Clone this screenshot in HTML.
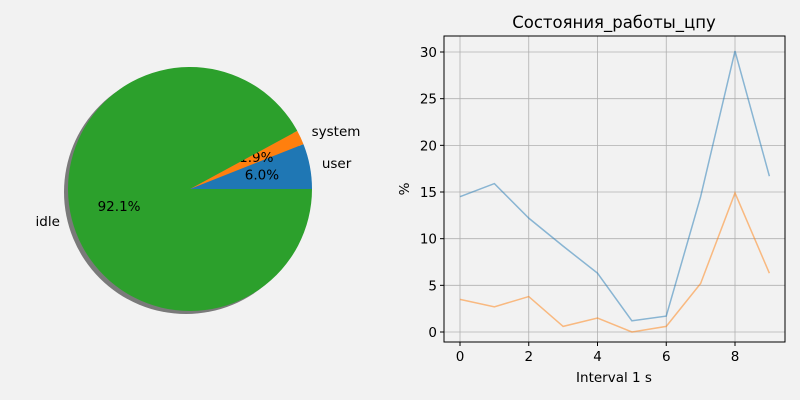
<!DOCTYPE html>
<html><head><meta charset="utf-8"><style>
body{margin:0;background:#f2f2f2}
svg{display:block;font-family:"DejaVu Sans","Liberation Sans",sans-serif}
</style></head><body>
<svg id="s" width="800" height="400">
<rect width="800" height="400" fill="#f2f2f2"/>
<g id="pie"></g>
<g id="line"></g>
</svg>
<script>
const pieLabels=["user","system","idle"];
const pieValues=[6.0,1.9,92.1];
const pieColors=["#1f77b4","#ff7f0e","#2ca02c"];
const xVals=[0,1,2,3,4,5,6,7,8,9];
const series1=[14.5,15.9,12.2,9.2,6.3,1.2,1.7,14.5,30.1,16.7];
const series2=[3.5,2.7,3.8,0.6,1.5,0.0,0.6,5.2,14.9,6.3];
const xTicks=[0,2,4,6,8];
const yTicks=[0,5,10,15,20,25,30];
const NS="http://www.w3.org/2000/svg";
const FS=13.5;
function mk(t,a,p,txt){const e=document.createElementNS(NS,t);for(const k in a)e.setAttribute(k,a[k]);if(txt!==undefined)e.textContent=txt;p.appendChild(e);return e;}
// pie
const pie=document.getElementById('pie');
const cx=190,cy=189,R=122;
const sh=mk('circle',{cx:cx-4,cy:cy+3,r:R,fill:'#7a7a7a'},pie);


const tot=pieValues.reduce((a,b)=>a+b,0);
let a0=0;
pieValues.forEach((v,i)=>{
 const a1=a0+v/tot*2*Math.PI;
 const x0=cx+R*Math.cos(a0),y0=cy-R*Math.sin(a0),x1=cx+R*Math.cos(a1),y1=cy-R*Math.sin(a1);
 const large=(a1-a0)>Math.PI?1:0;
 const p=mk('path',{d:`M${cx},${cy}L${x0},${y0}A${R},${R} 0 ${large} 0 ${x1},${y1}Z`,fill:pieColors[i]},pie);
 
 
 const m=(a0+a1)/2,c=Math.cos(m),s=Math.sin(m);
 const lt=mk('text',{x:cx+R*1.1*c,y:cy-R*1.1*s+4,'font-size':FS,'text-anchor':c>0?'start':'end'},pie,pieLabels[i]);
 
 
 const pt=mk('text',{x:cx+R*0.6*c,y:cy-R*0.6*s+4,'font-size':FS,'text-anchor':'middle'},pie,v.toFixed(1)+'%');
 
 
 a0=a1;
});
// line
const g=document.getElementById('line');
const L=444,Rt=785,T=36,B=342;
const X=v=>460+v*34.375, Y=v=>332-v*9.333;
const bg=mk('rect',{x:L,y:T,width:Rt-L,height:B-T,fill:'#f2f2f2'},g);


xTicks.forEach(t=>{
 mk('line',{x1:X(t),x2:X(t),y1:T,y2:B,stroke:'#b0b0b0','stroke-width':0.8},g);
 mk('line',{x1:X(t),x2:X(t),y1:B,y2:B+4,stroke:'#000'},g);
 const e=mk('text',{x:X(t),y:B+19,'font-size':FS,'text-anchor':'middle'},g,t);
 
 
});
yTicks.forEach(t=>{
 mk('line',{x1:L,x2:Rt,y1:Y(t),y2:Y(t),stroke:'#b0b0b0','stroke-width':0.8},g);
 mk('line',{x1:L-4,x2:L,y1:Y(t),y2:Y(t),stroke:'#000'},g);
 const e=mk('text',{x:L-7,y:Y(t)+5,'font-size':FS,'text-anchor':'end'},g,t);
 
 
});
[[series1,'#1f77b4','series-1-line'],[series2,'#ff7f0e','series-2-line']].forEach(([d,c,n])=>{
 const p=mk('polyline',{points:d.map((v,i)=>X(xVals[i])+','+Y(v)).join(' '),fill:'none',stroke:c,'stroke-width':1.5,'stroke-opacity':0.5},g);
 
 
});
const fr=mk('rect',{x:L,y:T,width:Rt-L,height:B-T,fill:'none',stroke:'#000','stroke-width':1},g);


const ti=mk('text',{x:614,y:28,'font-size':16.5,'text-anchor':'middle'},g,'Состояния_работы_цпу');


const xl=mk('text',{x:614,y:382,'font-size':FS,'text-anchor':'middle'},g,'Interval 1 s');


const yl=mk('text',{x:0,y:0,'font-size':FS,'text-anchor':'middle',transform:'translate(409,189) rotate(-90)'},g,'%');


</script>
</body></html>
